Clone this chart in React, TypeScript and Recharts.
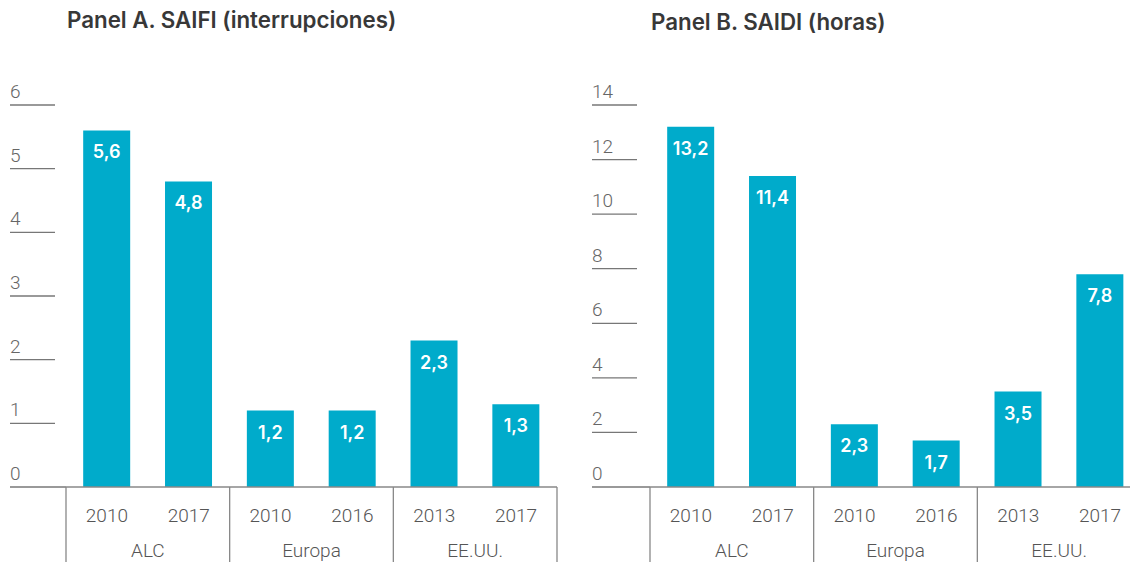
import React from "react";
import { BarChart, Bar, XAxis, YAxis, LabelList } from "recharts";

const years = ["2010", "2017", "2010", "2016", "2013", "2017"];
const regions = ["ALC", "ALC", "Europa", "Europa", "EE.UU.", "EE.UU."];
const saifiValues = [5.6, 4.8, 1.2, 1.2, 2.3, 1.3];
const saidiValues = [13.2, 11.4, 2.3, 1.7, 3.5, 7.8];
const saifiTicks = [0, 1, 2, 3, 4, 5, 6];
const saidiTicks = [0, 2, 4, 6, 8, 10, 12, 14];

const BAR_COLOR = "#00abcb";
const FONT = "Roboto, 'Noto Sans', sans-serif";
const TITLE_FONT = "Inter, 'Open Sans', sans-serif";
const W = 570;
const H = 562;
const TOP = 105;
const BASE = 487;

type PanelProps = {
  left: number;
  title: string;
  titleX: number;
  titleY: number;
  values: number[];
  ticks: number[];
  lineX1: number;
  lineX2: number;
  marginLeft: number;
  yWidth: number;
  marginRight: number;
};

function Panel(p: PanelProps) {
  const data = p.values.map((v, i) => ({ key: String(i), year: years[i], region: regions[i], value: v }));
  const plotLeft = p.marginLeft + p.yWidth;
  const plotRight = W - p.marginRight;
  const band = (plotRight - plotLeft) / data.length;
  const max = p.ticks[p.ticks.length - 1];

  const YTick = (props: any) => {
    const { y, payload } = props;
    return (
      <g>
        <line x1={p.lineX1} x2={payload.value === 0 ? plotLeft : p.lineX2} y1={y} y2={y} stroke="#777" strokeWidth={1.3} />
        <text x={p.lineX1} y={y - 7} fontSize={19} fontWeight={300} fill="#666" fontFamily={FONT}>
          {payload.value}
        </text>
      </g>
    );
  };

  const XTick = (props: any) => {
    const { x, payload } = props;
    const i = parseInt(String(payload.value), 10);
    const elems: any[] = [];
    elems.push(
      <text key="y" x={x} y={522} textAnchor="middle" fontSize={19} fontWeight={300} fill="#555" fontFamily={FONT}>
        {years[i]}
      </text>
    );
    if (i % 2 === 0) {
      elems.push(
        <line key="s" x1={x - band / 2} x2={x - band / 2} y1={BASE} y2={H} stroke="#888" strokeWidth={1.3} />
      );
      elems.push(
        <text key="g" x={x + band / 2} y={557} textAnchor="middle" fontSize={19} fontWeight={300} fill="#555" fontFamily={FONT}>
          {regions[i]}
        </text>
      );
    }
    if (i === data.length - 1) {
      elems.push(
        <line key="e" x1={x + band / 2} x2={x + band / 2} y1={BASE} y2={H} stroke="#888" strokeWidth={1.3} />
      );
    }
    return <g>{elems}</g>;
  };

  const renderLabel = (props: any) => {
    const { x, y, width, value } = props;
    return (
      <text x={x + width / 2} y={y + 28} textAnchor="middle" fill="#fff" fontSize={18} fontWeight={600} fontFamily={TITLE_FONT}>
        {String(value).replace(".", ",")}
      </text>
    );
  };

  return (
    <div style={{ position: "absolute", left: p.left, top: 0, width: W, height: H }}>
      <div
        style={{
          position: "absolute",
          left: p.titleX,
          top: p.titleY,
          fontFamily: TITLE_FONT,
          fontWeight: 600,
          fontSize: 22.3,
          color: "#383838",
          whiteSpace: "nowrap",
          lineHeight: "26px",
        }}
      >
        {p.title}
      </div>
      <BarChart
        width={W}
        height={H}
        data={data}
        margin={{ top: TOP, left: p.marginLeft, right: p.marginRight, bottom: 0 }}
        barCategoryGap="21%"
      >
        <YAxis
          width={p.yWidth}
          domain={[0, max]}
          ticks={p.ticks}
          axisLine={false}
          tickLine={false}
          tick={YTick}
          interval={0}
        />
        <XAxis
          dataKey="key"
          height={H - BASE}
          axisLine={{ stroke: "#888", strokeWidth: 1.3 }}
          tickLine={false}
          tick={XTick}
          interval={0}
        />
        <Bar dataKey="value" fill={BAR_COLOR} isAnimationActive={false}>
          <LabelList dataKey="value" content={renderLabel} />
        </Bar>
      </BarChart>
    </div>
  );
}

export default function App() {
  return (
    <div
      style={{
        position: "absolute",
        left: 0,
        top: 0,
        width: 1130,
        height: 562,
        overflow: "hidden",
        background: "#fff",
      }}
    >
      <Panel
        left={0}
        title="Panel A. SAIFI (interrupciones)"
        titleX={67}
        titleY={7}
        values={saifiValues}
        ticks={saifiTicks}
        lineX1={10}
        lineX2={55}
        marginLeft={10}
        yWidth={56}
        marginRight={13}
      />
      <Panel
        left={580}
        title="Panel B. SAIDI (horas)"
        titleX={71}
        titleY={9}
        values={saidiValues}
        ticks={saidiTicks}
        lineX1={12}
        lineX2={57}
        marginLeft={12}
        yWidth={58}
        marginRight={9}
      />
    </div>
  );
}
